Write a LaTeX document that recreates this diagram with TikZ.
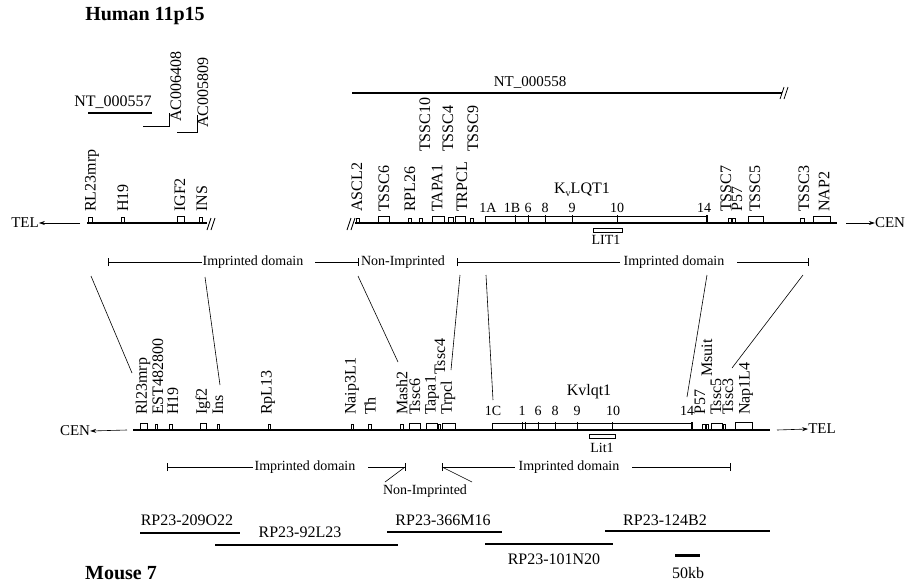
\documentclass[tikz,border=0pt]{standalone}
\usepackage{fontspec}
\setmainfont{Liberation Serif}
\usetikzlibrary{arrows.meta}
\newcommand\brkmark[2]{\draw[brk] (#1-4,#2+6) -- (#1,#2-6) (#1,#2+6) -- (#1+4,#2-6);}
\begin{document}
\begin{tikzpicture}[x=1pt,y=-1pt,
  chrom/.style={line width=1.3pt},
  gbox/.style={line width=0.7pt},
  dom/.style={line width=0.9pt},
  clone/.style={line width=1.1pt},
  corr/.style={line width=0.6pt},
  gl/.style={rotate=90,anchor=west,inner sep=0pt,font=\fontsize{16}{16}\selectfont},
  sm/.style={inner sep=0pt,font=\fontsize{14}{14}\selectfont},
  md/.style={inner sep=0pt,font=\fontsize{16}{16}\selectfont},
  ttl/.style={inner sep=0pt,font=\fontsize{20}{20}\selectfont\bfseries},
  brk/.style={line width=0.8pt},
  arr/.style={-{Stealth[length=6pt,width=4pt]},line width=0.6pt}
]
\useasboundingbox (0,0) rectangle (906,582);

% titles
\node[ttl] (th) at (145,16) {Human 11p15};
\node[ttl] (tm) at (121,573) {Mouse 7};

% ---------- human clones
\node[md] (nt557) at (113,102) {NT\_000557};
\draw[clone] (88,113) -- (152,113);
\draw[thin] (143,126) -- (169,126) -- (169,113);
\node[gl] (ac6408) at (176,122) {AC006408};
\draw[thin] (177,132) -- (197,132) -- (197,115);
\node[gl] (ac5809) at (203,128) {AC005809};
\node[inner sep=0pt,font=\fontsize{15}{15}\selectfont] (nt558) at (530,82) {NT\_000558};
\draw[clone] (352,93) -- (782,93);
\brkmark{784}{93}

% ---------- human left segment
\node[inner sep=0pt,font=\fontsize{15}{15}\selectfont] (telh) at (25,223) {TEL};
\coordinate (telhs) at (80,223);
\draw[arr] (telhs) -- (telh.east);
\draw[chrom] (87,223) -- (207,223);
\brkmark{211}{224}
\draw[gbox] (88,217) rectangle (92,223);
\draw[gbox] (121,217) rectangle (124,223);
\draw[gbox] (177,216) rectangle (184,223);
\draw[gbox] (199,217) rectangle (202,223);
\node[gl] (hRL) at (92,212) {RL23mrp};
\node[gl] (hH19) at (123,212) {H19};
\node[gl] (hIGF) at (180,212) {IGF2};
\node[gl] (hINS) at (202,212) {INS};

% ---------- human right segment
\brkmark{351}{224}
\draw[chrom] (355,223) -- (837,223);
\draw[gbox] (356,218) rectangle (359,223);
\draw[gbox] (378,216) rectangle (389,223);
\draw[gbox] (408,218) rectangle (411,223);
\draw[gbox] (419,218) rectangle (422,223);
\draw[gbox] (432,216) rectangle (444,223);
\draw[gbox] (448,217) rectangle (453,223);
\draw[gbox] (455,216) rectangle (465,223);
\draw[gbox] (470,218) rectangle (473,223);
\draw[gbox] (485,216) rectangle (707,223);
\foreach \d in {515,528,545,572,617} \draw[gbox] (\d,215) -- (\d,223);
\draw[line width=1.6pt] (707,215) -- (707,223);
\draw[gbox] (728,218) rectangle (731,223);
\draw[gbox] (732,218) rectangle (735,223);
\draw[gbox] (748,216) rectangle (763,223);
\draw[gbox] (800,218) rectangle (804,223);
\draw[gbox] (813,216) rectangle (830,223);
\node[gl] (hASCL2) at (357,212) {ASCL2};
\node[gl] (hTSSC6) at (384,212) {TSSC6};
\node[gl] (hRPL26) at (410,212) {RPL26};
\node[gl] (hTSSC10) at (425,152) {TSSC10};
\node[gl] (hTAPA1) at (437,212) {TAPA1};
\node[gl] (hTSSC4) at (448,152) {TSSC4};
\node[gl] (hTRPCL) at (462,212) {TRPCL};
\node[gl] (hTSSC9) at (473,152) {TSSC9};
\node[gl] (hTSSC7) at (726,212) {TSSC7};
\node[gl] (hP57) at (737,212) {P57};
\node[gl] (hTSSC5) at (755,212) {TSSC5};
\node[gl] (hTSSC3) at (804,212) {TSSC3};
\node[gl] (hNAP2) at (824,212) {NAP2};
\node[sm] (e1A) at (488,208) {1A};
\node[sm] (e1B) at (512,208) {1B};
\node[sm] (e6) at (528,208) {6};
\node[sm] (e8) at (545,208) {8};
\node[sm] (e9) at (572,208) {9};
\node[sm] (e10) at (617,208) {10};
\node[sm] (e14) at (704,208) {14};
\node[md] (hKv) at (582,190) {K\raisebox{-0.35ex}{\fontsize{10}{10}\selectfont v}LQT1};
\draw[gbox] (593,228) rectangle (622,232);
\node[sm] (hLIT) at (606,240) {LIT1};
\node[inner sep=0pt,font=\fontsize{15}{15}\selectfont] (cenh) at (890,223) {CEN};
\coordinate (cenhs) at (846,223);
\draw[arr] (cenhs) -- (cenh.west);

% human domains
\node[sm] (hid1) at (253,262) {Imprinted domain};
\node[sm] (hni) at (403,262) {Non-Imprinted};
\node[sm] (hid2) at (674,262) {Imprinted domain};
\coordinate (hd1a) at (108,262); \coordinate (hd1b) at (202,262);
\coordinate (hd1c) at (315,262); \coordinate (hd1d) at (358,262);
\coordinate (hd2a) at (457,262); \coordinate (hd2b) at (620,262);
\coordinate (hd2c) at (737,262); \coordinate (hd2d) at (808,262);
\draw[dom] (hd1a) -- (hd1b) (hd1c) -- (hd1d) (hd2a) -- (hd2b) (hd2c) -- (hd2d);
\foreach \t in {hd1a,hd1d,hd2a,hd2d} \draw[dom] ([yshift=-4pt]\t) -- ([yshift=4pt]\t);

% ---------- correspondence lines
\coordinate (c1h) at (91,276);  \coordinate (c1m) at (132,373);
\coordinate (c2h) at (205,277); \coordinate (c2m) at (220,385);
\coordinate (c3h) at (358,276); \coordinate (c3m) at (398,362);
\coordinate (c4h) at (460,275); \coordinate (c4m) at (451,370);
\coordinate (c5h) at (486,275); \coordinate (c5m) at (493,400);
\coordinate (c6h) at (707,275); \coordinate (c6m) at (687,397);
\coordinate (c7h) at (803,275); \coordinate (c7m) at (732,368);
\foreach \i in {1,...,7} \draw[corr] (c\i h) -- (c\i m);

% ---------- mouse line
\node[inner sep=0pt,font=\fontsize{15}{15}\selectfont] (cenm) at (75,431) {CEN};
\coordinate (cenms) at (127,430);
\draw[arr] (cenms) -- (cenm.east);
\draw[chrom] (133,430) -- (770,430);
\draw[gbox] (140,423) rectangle (147,430);
\draw[gbox] (155,424) rectangle (157,430);
\draw[gbox] (169,424) rectangle (172,430);
\draw[gbox] (200,423) rectangle (206,430);
\draw[gbox] (217,424) rectangle (219,430);
\draw[gbox] (268,424) rectangle (270,430);
\draw[gbox] (351,424) rectangle (353,430);
\draw[gbox] (368,424) rectangle (371,430);
\draw[gbox] (400,424) rectangle (403,430);
\draw[gbox] (409,423) rectangle (420,430);
\draw[gbox] (426,423) rectangle (437,430);
\draw[gbox] (438,424) rectangle (440,430);
\draw[gbox] (442,423) rectangle (455,430);
\draw[gbox] (492,423) rectangle (692,430);
\foreach \d in {522,525,538,555,577,612} \draw[gbox] (\d,422) -- (\d,430);
\draw[line width=1.4pt] (692,422) -- (692,430);
\draw[gbox] (702,424) rectangle (705,430);
\draw[gbox] (706,424) rectangle (708,430);
\draw[gbox] (711,423) rectangle (722,430);
\draw[gbox] (723,424) rectangle (725,430);
\draw[gbox] (735,422) rectangle (752,430);
\node[gl] (mRl) at (143,415) {Rl23mrp};
\node[gl] (mEST) at (158,415) {EST482800};
\node[gl] (mH19) at (173,415) {H19};
\node[gl] (mIgf) at (203,415) {Igf2};
\node[gl] (mIns) at (218,415) {Ins};
\node[gl] (mRp) at (268,415) {RpL13};
\node[gl] (mNaip) at (352,415) {Naip3L1};
\node[gl] (mTh) at (370,415) {Th};
\node[gl] (mMash) at (402,415) {Mash2};
\node[gl] (mTssc6) at (415,415) {Tssc6};
\node[gl] (mTapa) at (432,415) {Tapa1};
\node[gl] (mTssc4) at (440,375) {Tssc4};
\node[gl] (mTrpcl) at (448,415) {Trpcl};
\node[gl] (mP57) at (700,415) {P57};
\node[gl] (mMsuit) at (707,377) {Msuit};
\node[gl] (mTssc5) at (716,415) {Tssc5};
\node[gl] (mTssc3) at (728,415) {Tssc3};
\node[gl] (mNap) at (746,415) {Nap1L4};
\node[sm] (m1C) at (493,411) {1C};
\node[sm] (m1) at (522,411) {1};
\node[sm] (m6) at (538,411) {6};
\node[sm] (m8) at (555,411) {8};
\node[sm] (m9) at (577,411) {9};
\node[sm] (m10) at (613,411) {10};
\node[sm] (m14) at (687,411) {14};
\node[md] (mKv) at (589,392) {Kvlqt1};
\draw[gbox] (589,434) rectangle (615,438);
\node[sm] (mLit) at (602,448) {Lit1};
\node[inner sep=0pt,font=\fontsize{15}{15}\selectfont] (telm) at (822,429) {TEL};
\coordinate (telms) at (777,430);
\draw[arr] (telms) -- (telm.west);

% mouse domains
\node[sm] (mid1) at (305,467) {Imprinted domain};
\node[sm] (mni) at (425,491) {Non-Imprinted};
\node[sm] (mid2) at (569,467) {Imprinted domain};
\coordinate (md1a) at (167,467); \coordinate (md1b) at (253,467);
\coordinate (md1c) at (368,467); \coordinate (md1d) at (405,467);
\coordinate (md2a) at (442,467); \coordinate (md2b) at (515,467);
\coordinate (md2c) at (632,467); \coordinate (md2d) at (730,467);
\draw[dom] (md1a) -- (md1b) (md1c) -- (md1d) (md2a) -- (md2b) (md2c) -- (md2d);
\foreach \t in {md1a,md1d,md2a,md2d} \draw[dom] ([yshift=-4pt]\t) -- ([yshift=4pt]\t);
\coordinate (ms1) at (385,482); \coordinate (ms2) at (472,482);
\draw[corr] (md1d) -- (ms1);
\draw[corr] (md2a) -- (ms2);

% mouse clones
\node[md] (b1) at (187,520) {RP23-209O22};
\draw[clone] (140,533) -- (240,533);
\node[md] (b2) at (300,532) {RP23-92L23};
\draw[clone] (215,545) -- (398,545);
\node[md] (b3) at (443,520) {RP23-366M16};
\draw[clone] (387,532) -- (502,532);
\node[md] (b4) at (554,559) {RP23-101N20};
\draw[clone] (485,544) -- (613,544);
\node[md] (b5) at (665,520) {RP23-124B2};
\draw[clone] (605,531) -- (770,531);
\draw[line width=3pt] (675,555) -- (700,555);
\node[md] (kb) at (688,573) {50kb};
\end{tikzpicture}
\end{document}
